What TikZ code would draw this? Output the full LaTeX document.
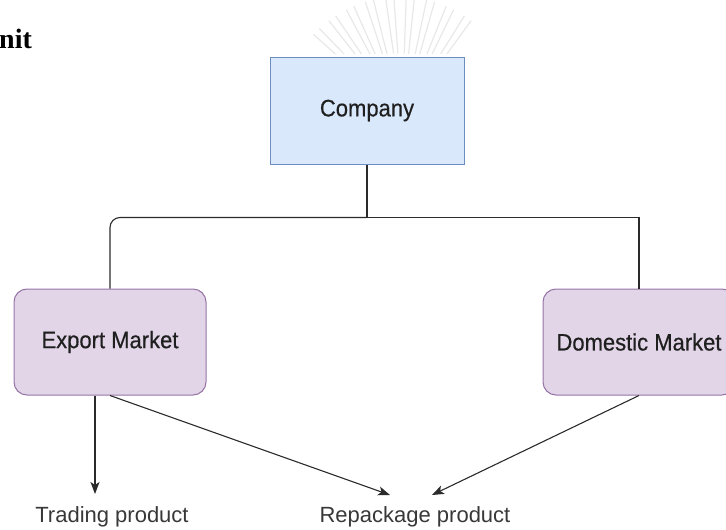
\documentclass[tikz,border=0pt]{standalone}
\usepackage{fontspec}
\setmainfont{Liberation Sans}
\newfontfamily\headfont{Liberation Serif}
\newfontfamily\boxfont{Liberation Sans}[FakeBold=0.5]
\usetikzlibrary{arrows.meta,calc}
\definecolor{bluefill}{HTML}{DAE8FC}
\definecolor{bluedraw}{HTML}{6C8EBF}
\definecolor{purplefill}{HTML}{E1D5E7}
\definecolor{purpledraw}{HTML}{9673A6}
\definecolor{linkgray}{HTML}{2B2B2B}
\newcommand\tallbox[1]{\scalebox{1}[1.08]{#1}}
\begin{document}
\begin{tikzpicture}[x=1pt,y=-1pt,
  box font/.style={font=\boxfont\fontsize{22}{26}\selectfont,text=black!88},
  unitbox/.style={box font,draw=bluedraw,fill=bluefill,line width=1pt,
    minimum width=194pt,minimum height=107pt,inner sep=0pt},
  marketbox/.style={box font,draw=purpledraw,fill=purplefill,line width=1pt,
    rounded corners=13pt,minimum width=192pt,minimum height=106pt,inner sep=0pt},
  link/.style={draw=linkgray,line width=1.1pt},
  flow/.style={link,-{Stealth[length=12pt,width=9pt,inset=3pt]}},
  caption/.style={font=\fontsize{22}{26}\selectfont,text=black!78,inner sep=0pt,anchor=base},
  emblem/.style={draw=black!9,line width=1.2pt,line cap=round}]
\useasboundingbox (0,0) rectangle (726,530);

% faint emblem strokes behind the heading area
\begin{scope}
  \clip (300,0) rectangle (500,53);
  \foreach \a in {-54,-64,...,-134}{
    \draw[emblem] ($(400,115)+(\a-2:62)$) -- ($(400,115)+(\a-3:118)$);
    \draw[emblem] ($(400,115)+(\a+2:62)$) -- ($(400,115)+(\a+1:118)$);
  }
\end{scope}

% partial heading
\node[anchor=base west,inner sep=0pt,font=\headfont\bfseries\fontsize{28}{32}\selectfont]
  (heading) at (-1,48) {nit};

% boxes
\node[unitbox] (company) at (367,110.5) {\tallbox{Company}};
\node[marketbox] (export) at (110,342) {\tallbox{Export Market}};
\node[marketbox] (domestic) at (639,342) {\tallbox{Domestic Market}};

% tree connectors
\path (company.south) ++(0,53) coordinate (split);
\draw[link] (company.south) -- (split);
\draw[link,rounded corners=10pt] (split) -| (export.north);
\draw[link] (split) -| (domestic.north);

% products
\node[caption] (trading) at (112,522) {Trading product};
\node[caption] (repack) at (415,522) {Repackage product};

\coordinate (tradeTip) at (95,494);
\coordinate (repackTipL) at (390,495);
\coordinate (repackTipR) at (432,495);

\draw[flow] (export.south -| tradeTip) -- (tradeTip);
\draw[flow] (export.south) -- (repackTipL);
\draw[flow] (domestic.south) -- (repackTipR);
\end{tikzpicture}
\end{document}
